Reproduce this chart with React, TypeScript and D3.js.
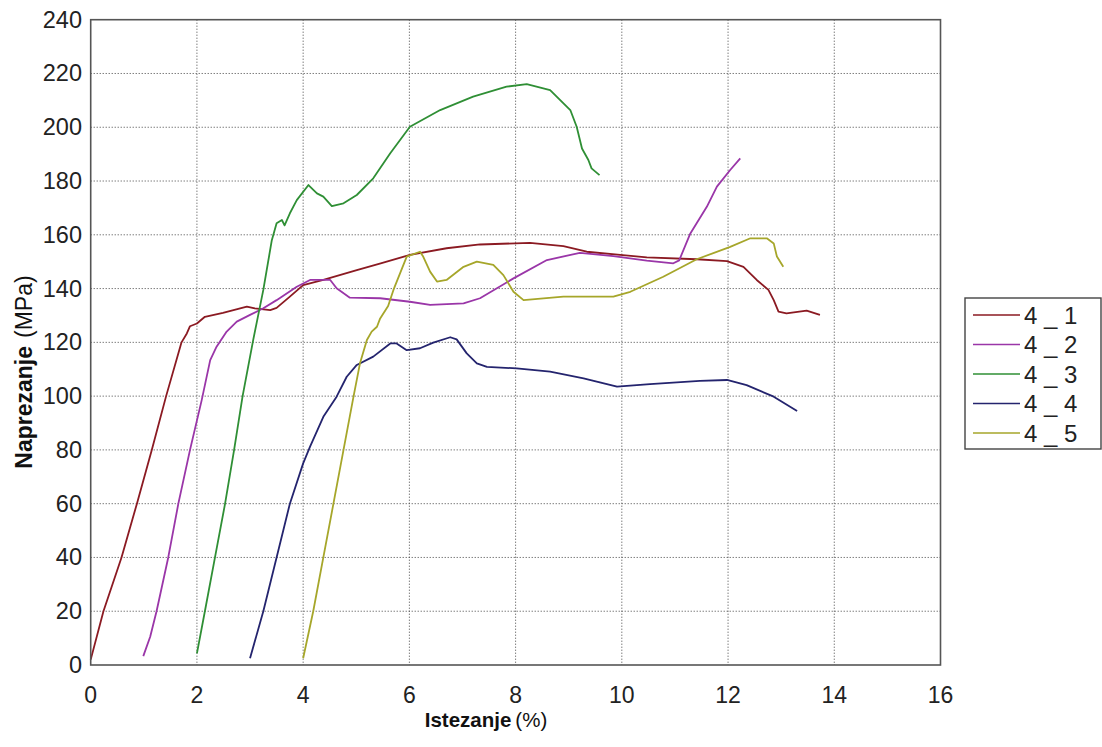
import React from "react";
import * as d3 from "d3";

type P = [number, number];

const xTicks = [0, 2, 4, 6, 8, 10, 12, 14, 16];
const yTicks = [0, 20, 40, 60, 80, 100, 120, 140, 160, 180, 200, 220, 240];

const seriesNames = ["4 _ 1", "4 _ 2", "4 _ 3", "4 _ 4", "4 _ 5"];
const seriesColors = ["#8b1a22", "#9a36a8", "#2f8f35", "#24246e", "#a6a62a"];

const s41: P[] = [[0,2],[0.24,20],[0.58,40],[0.87,60],[1.15,80],[1.42,100],[1.71,120],[1.81,123.3],[1.87,126],[2.0,127],[2.15,129.5],[2.49,131],[2.94,133.3],[3.09,132.6],[3.38,132],[3.5,132.8],[3.75,137],[4.0,141.3],[4.38,143.2],[5.01,146.9],[5.46,149.4],[6.01,152.5],[6.7,155],[7.33,156.4],[8.27,157],[8.9,155.8],[9.34,153.7],[9.97,152.5],[10.47,151.6],[11.41,150.9],[11.98,150.2],[12.29,148.1],[12.54,143.2],[12.76,139.5],[12.86,135.7],[12.95,131.4],[13.1,130.8],[13.48,131.8],[13.73,130.2]];
const s42: P[] = [[0.99,3.3],[1.12,10.5],[1.24,20],[1.46,40],[1.65,60],[1.87,80],[2.09,98.5],[2.25,113.4],[2.37,118.4],[2.56,124],[2.75,127.7],[3.0,130.2],[3.25,132.7],[3.5,135.7],[3.88,140.7],[4.13,143.2],[4.51,143.2],[4.63,140.1],[4.88,136.6],[5.45,136.4],[6.01,135.1],[6.39,133.9],[7.02,134.5],[7.33,136.4],[7.96,143.8],[8.59,150.6],[9.21,153.3],[9.84,152.1],[10.47,150.4],[10.97,149.4],[11.08,150.5],[11.29,160.5],[11.6,170.4],[11.79,177.9],[12.04,184.1],[12.23,188.4]];
const s43: P[] = [[2.0,4.3],[2.15,20],[2.34,40],[2.53,60],[2.7,80],[2.86,100],[3.06,120.9],[3.25,139.5],[3.41,158],[3.5,164.3],[3.6,165.5],[3.65,163.5],[3.75,168],[3.88,172.9],[4.1,178.5],[4.26,175.4],[4.38,174.2],[4.54,170.7],[4.76,171.7],[5.01,174.8],[5.32,181],[5.64,190.3],[6.01,200.2],[6.58,206.4],[7.2,211.4],[7.83,215.1],[8.21,216],[8.65,213.8],[9.03,206.4],[9.15,200.2],[9.25,192.1],[9.37,187.8],[9.43,184.7],[9.58,182.2]];
const s44: P[] = [[3.0,2.5],[3.25,20],[3.5,40],[3.75,60],[4.0,75],[4.13,81.2],[4.38,92.3],[4.63,99.8],[4.82,107.2],[5.01,111.6],[5.32,114.7],[5.64,119.6],[5.76,119.6],[5.95,117.1],[6.2,117.8],[6.45,119.9],[6.77,121.9],[6.89,121.1],[7.08,115.9],[7.27,112.2],[7.46,110.9],[8.02,110.3],[8.65,109.1],[9.28,106.6],[9.91,103.5],[10.53,104.5],[11.47,105.7],[11.98,106],[12.35,104.1],[12.86,99.8],[13.3,94.5]];
const s45: P[] = [[4.0,2.5],[4.19,20],[4.38,40],[4.57,60],[4.76,80],[4.95,100],[5.07,112.2],[5.2,120.9],[5.29,124],[5.39,125.8],[5.45,128.9],[5.6,133.5],[5.7,139.5],[5.95,151.9],[6.2,153.7],[6.26,151.9],[6.39,146.3],[6.52,142.6],[6.7,143.2],[7.02,148.1],[7.27,150],[7.58,148.8],[7.77,145],[7.96,138.8],[8.15,135.7],[8.9,137],[9.84,137],[10.16,138.8],[10.78,144.4],[11.41,150.9],[12.04,155.5],[12.42,158.7],[12.73,158.7],[12.86,156.8],[12.92,151.9],[13.04,148.1]];

const allSeries = [s41, s42, s43, s44, s45];

const W = 1102, H = 747;
const L = 90.7, R = 940.5, T = 19.7, B = 665;
const FONT = "'Liberation Sans', Arial, sans-serif";

export default function App() {
  const x = d3.scaleLinear().domain([0, 16]).range([L, R]);
  const y = d3.scaleLinear().domain([0, 240]).range([B, T]);
  const line = d3.line<P>().x(d => x(d[0])).y(d => y(d[1]));

  const legX = 965, legY = 298, legW = 136, legH = 151;
  const rowY = (i: number) => 315 + i * 29.5;

  return (
    <svg width={W} height={H} style={{ position: "absolute", left: 0, top: 0, background: "#fff" }} fontFamily={FONT}>
      <rect x={0} y={0} width={W} height={H} fill="#fff" />
      {xTicks.slice(1, -1).map(t => (
        <line key={"gx" + t} x1={x(t)} x2={x(t)} y1={T} y2={B} stroke="#444" strokeWidth={1} strokeDasharray="1 2" />
      ))}
      {yTicks.slice(1, -1).map(t => (
        <line key={"gy" + t} x1={L} x2={R} y1={y(t)} y2={y(t)} stroke="#444" strokeWidth={1} strokeDasharray="1 2" />
      ))}
      {allSeries.map((s, i) => (
        <path key={"s" + i} d={line(s) || ""} fill="none" stroke={seriesColors[i]} strokeWidth={1.8} strokeLinejoin="round" />
      ))}
      <rect x={L} y={T} width={R - L} height={B - T} fill="none" stroke="#555" strokeWidth={1.6} />
      {yTicks.map(t => (
        <text key={"yt" + t} x={82} y={y(t)} textAnchor="end" dominantBaseline="central" fontSize={23.5} fill="#222">{t}</text>
      ))}
      {xTicks.map(t => (
        <text key={"xt" + t} x={x(t)} y={695} textAnchor="middle" dominantBaseline="central" fontSize={23} fill="#222">{t}</text>
      ))}
      <text x={486} y={719} textAnchor="middle" dominantBaseline="central" fontSize={20.5} fill="#111">
        <tspan fontWeight="bold">Istezanje</tspan>
        <tspan dx={4}>(%)</tspan>
      </text>
      <text transform={`translate(24,372) rotate(-90)`} textAnchor="middle" dominantBaseline="central" fontSize={23} fill="#111">
        <tspan fontWeight="bold">Naprezanje</tspan>
        <tspan dx={8}>(MPa)</tspan>
      </text>
      <rect x={legX} y={legY} width={legW} height={legH} fill="#fff" stroke="#444" strokeWidth={1.4} />
      {seriesNames.map((n, i) => (
        <g key={"lg" + i}>
          <line x1={973} x2={1020} y1={rowY(i)} y2={rowY(i)} stroke={seriesColors[i]} strokeWidth={1.6} />
          <text x={1024} y={rowY(i)} dominantBaseline="central" fontSize={24} fill="#222">{n}</text>
        </g>
      ))}
    </svg>
  );
}
